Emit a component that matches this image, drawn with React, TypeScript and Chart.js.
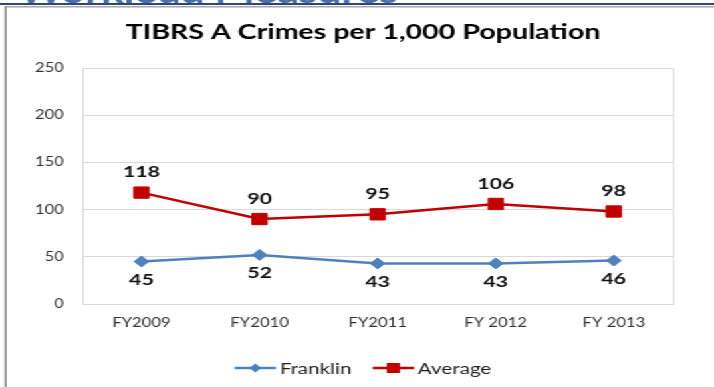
import React, { useEffect, useRef } from 'react';
import { Chart, registerables } from 'chart.js';

Chart.register(...registerables);

// ---- data ----
const categories = ['FY2009', 'FY2010', 'FY2011', 'FY 2012', 'FY 2013'];
const franklin = [45, 52, 43, 43, 46];
const average = [118, 90, 95, 106, 98];
const yTicks = [0, 50, 100, 150, 200, 250];
const chartTitle = 'TIBRS A Crimes per 1,000 Population';
const headerText = 'Workload Measures';
const seriesNames = ['Franklin', 'Average'];

// ---- layout (the reference image is horizontally stretched) ----
const STRETCH = 1.33;
const W = Math.round(714 / STRETCH);
const H = 387;
const CENTER_X = 273;
const FONT = 'Lato, "Open Sans", sans-serif';

const decorPlugin = {
  id: 'decor',
  beforeDraw(chart: any) {
    const ctx = chart.ctx;
    ctx.save();
    ctx.fillStyle = '#ffffff';
    ctx.fillRect(0, 0, chart.width, chart.height);
    // cut-off slide header
    ctx.fillStyle = '#4A6DA7';
    ctx.font = `bold 32px ${FONT}`;
    ctx.textAlign = 'left';
    ctx.textBaseline = 'alphabetic';
    ctx.fillText(headerText, 14, 2.5);
    ctx.fillStyle = '#2F4574';
    ctx.fillRect(0, 3, chart.width, 2);
    // chart frame
    ctx.fillStyle = '#A6A6A6';
    ctx.fillRect(4, 6, chart.width - 4, 1.5);
    ctx.fillStyle = '#8C8C8C';
    ctx.fillRect(3.5, 6, 1.5, chart.height - 6);
    // title
    ctx.fillStyle = '#000000';
    ctx.font = `bold 21.5px ${FONT}`;
    ctx.textAlign = 'center';
    ctx.textBaseline = 'middle';
    ctx.fillText(chartTitle, CENTER_X, 32);
    ctx.restore();
  },
  beforeDatasetsDraw(chart: any) {
    const { ctx, chartArea: a } = chart;
    ctx.save();
    ctx.strokeStyle = '#D9D9D9';
    ctx.lineWidth = 1;
    ctx.strokeRect(Math.round(a.left) + 0.5, Math.round(a.top) + 0.5, Math.round(a.right - a.left), Math.round(a.bottom - a.top));
    ctx.restore();
  },
};

const labelPlugin = {
  id: 'valueLabels',
  afterDatasetsDraw(chart: any) {
    const ctx = chart.ctx;
    ctx.save();
    ctx.font = `bold 16px ${FONT}`;
    ctx.fillStyle = '#111111';
    ctx.textAlign = 'center';
    ctx.textBaseline = 'middle';
    chart.data.datasets.forEach((ds: any, i: number) => {
      const meta = chart.getDatasetMeta(i);
      const off = i === 1 ? -20.5 : 18;
      meta.data.forEach((pt: any, j: number) => {
        ctx.fillText(String(ds.data[j]), pt.x, pt.y + off);
      });
    });
    ctx.restore();
  },
};

const legendPlugin = {
  id: 'lineLegend',
  afterDraw(chart: any) {
    const ctx = chart.ctx;
    ctx.save();
    ctx.font = `15.5px ${FONT}`;
    ctx.textBaseline = 'middle';
    ctx.textAlign = 'left';
    const lineLen = 31;
    const gapText = 3;
    const gapItem = 16;
    const items = chart.data.datasets.map((ds: any, i: number) => ({ ds, i, w: ctx.measureText(ds.label).width }));
    const total = items.reduce((s: number, it: any) => s + lineLen + gapText + it.w, 0) + gapItem * (items.length - 1);
    let x = CENTER_X - total / 2;
    const y = 368;
    items.forEach(({ ds, i, w }: any) => {
      ctx.strokeStyle = ds.borderColor;
      ctx.lineWidth = ds.borderWidth;
      ctx.beginPath();
      ctx.moveTo(x, y);
      ctx.lineTo(x + lineLen, y);
      ctx.stroke();
      const cx = x + lineLen / 2;
      ctx.fillStyle = ds.pointBackgroundColor;
      ctx.beginPath();
      if (i === 0) {
        const r = 4.5;
        ctx.moveTo(cx - r, y);
        ctx.lineTo(cx, y - r);
        ctx.lineTo(cx + r, y);
        ctx.lineTo(cx, y + r);
        ctx.closePath();
      } else {
        ctx.rect(cx - 5, y - 5, 10, 10);
      }
      ctx.fill();
      ctx.fillStyle = '#1f1f1f';
      ctx.fillText(ds.label, x + lineLen + gapText, y + 1);
      x += lineLen + gapText + w + gapItem;
    });
    ctx.restore();
  },
};

export default function App() {
  const canvasRef = useRef<HTMLCanvasElement | null>(null);

  useEffect(() => {
    if (!canvasRef.current) return;
    const chart = new Chart(canvasRef.current, {
      type: 'line',
      data: {
        labels: categories,
        datasets: [
          {
            label: seriesNames[0],
            data: franklin,
            borderColor: '#4F81BD',
            backgroundColor: '#4F81BD',
            pointBackgroundColor: '#4F81BD',
            pointBorderColor: '#4F81BD',
            borderWidth: 2.5,
            pointStyle: 'rectRot',
            pointRadius: 5.5,
            pointBorderWidth: 1,
            tension: 0,
          },
          {
            label: seriesNames[1],
            data: average,
            borderColor: '#C00000',
            backgroundColor: '#C00000',
            pointBackgroundColor: '#C00000',
            pointBorderColor: '#C00000',
            borderWidth: 2.5,
            pointStyle: 'rect',
            pointRadius: 8,
            pointBorderWidth: 1,
            tension: 0,
          },
        ],
      },
      options: {
        responsive: false,
        animation: false,
        devicePixelRatio: 1,
        events: [],
        layout: { padding: { left: 5, right: W - 506, top: 68, bottom: 0 } },
        plugins: {
          legend: { display: false },
          title: { display: false },
          tooltip: { enabled: false },
        },
        scales: {
          x: {
            offset: true,
            grid: { display: false, drawTicks: false },
            border: { display: true, color: '#A6A6A6', width: 1 },
            ticks: { font: { family: FONT, size: 12.5 }, color: '#333333', padding: 11, maxRotation: 0, autoSkip: false },
            afterFit: (s: any) => { s.height = 83; },
          },
          y: {
            min: 0,
            max: 250,
            afterBuildTicks: (s: any) => { s.ticks = yTicks.map((v) => ({ value: v })); },
            ticks: { font: { family: FONT, size: 12.5 }, color: '#333333', padding: 14 },
            grid: { color: '#D9D9D9', drawTicks: false },
            border: { display: true, color: '#D9D9D9' },
            afterFit: (s: any) => { s.width = 57; },
          },
        },
      },
      plugins: [decorPlugin, labelPlugin, legendPlugin],
    } as any);
    return () => chart.destroy();
  }, []);

  return (
    <div
      style={{
        position: 'fixed',
        left: 0,
        top: 0,
        width: W,
        height: H,
        overflow: 'hidden',
        background: '#ffffff',
        transform: `scaleX(${714 / W})`,
        transformOrigin: '0 0',
      }}
    >
      <canvas ref={canvasRef} width={W} height={H} style={{ display: 'block' }} />
    </div>
  );
}
